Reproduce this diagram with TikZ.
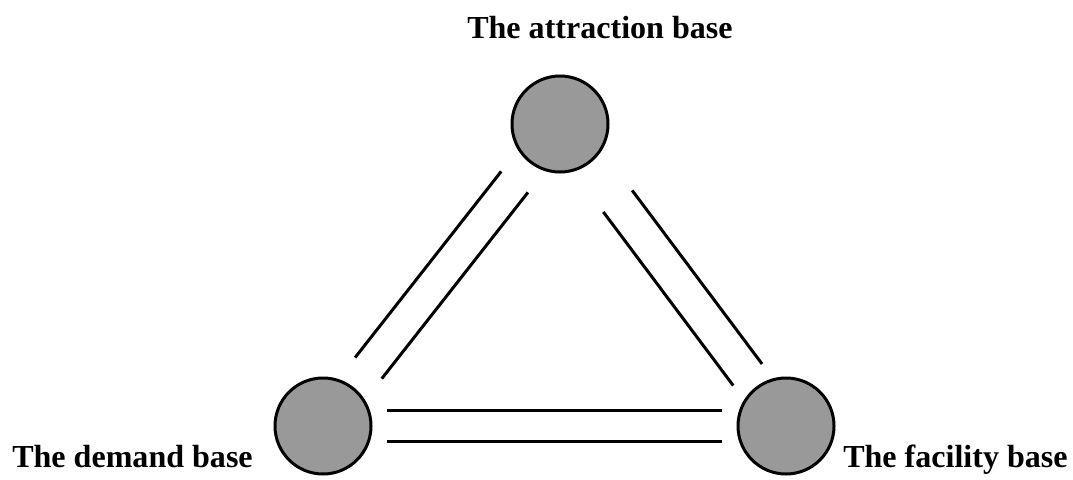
\documentclass[tikz,border=0pt]{standalone}
\usepackage{fontspec}
\setmainfont{Liberation Serif}
\usepackage{tikz}
\usetikzlibrary{calc}

\begin{document}
\begin{tikzpicture}
    \tikzset{base/.style = {shape=circle,draw,line width=0.075cm,fill=black!40,minimum size=2.4cm,inner sep=0pt}}
    \tikzset{basetext/.style = {shape=rectangle,draw=none,inner sep=0pt,anchor=base west,font=\fontsize{22.8}{27}\selectfont\bfseries}}
    \tikzset{link/.style = {line width=0.075cm}}

    \useasboundingbox (0,0) rectangle (26.825,-11.975);

    % vertices
    \node[base] (attr) at (14.0,-3.1) {};
    \node[base] (demand) at (8.075,-10.65) {};
    \node[base] (facility) at (19.65,-10.65) {};

    % texts
    \node[basetext] (attrtext) at (11.675,-0.95) {The attraction base};
    \node[basetext] (demandtext) at (0.3,-11.675) {The demand base};
    \node[basetext] (facilitytext) at (21.075,-11.675) {The facility base};

    %edges (two parallel lines each)
    \foreach \s in {1,-1} {
      \draw[link] ($(attr)!1.84cm!(demand)!\s*0.425cm!90:(demand)$) -- ($(demand)!1.84cm!(attr)!\s*0.425cm!-90:(attr)$);
      \draw[link] ($(attr)!2.41cm!(facility)!\s*0.45cm!90:(facility)$) -- ($(facility)!1.6cm!(attr)!\s*0.45cm!-90:(attr)$);
      \draw[link] ($(demand)!1.6cm!(facility)!\s*0.3875cm!90:(facility)$) -- ($(facility)!1.6cm!(demand)!\s*0.3875cm!-90:(demand)$);
    }
\end{tikzpicture}
\end{document}
